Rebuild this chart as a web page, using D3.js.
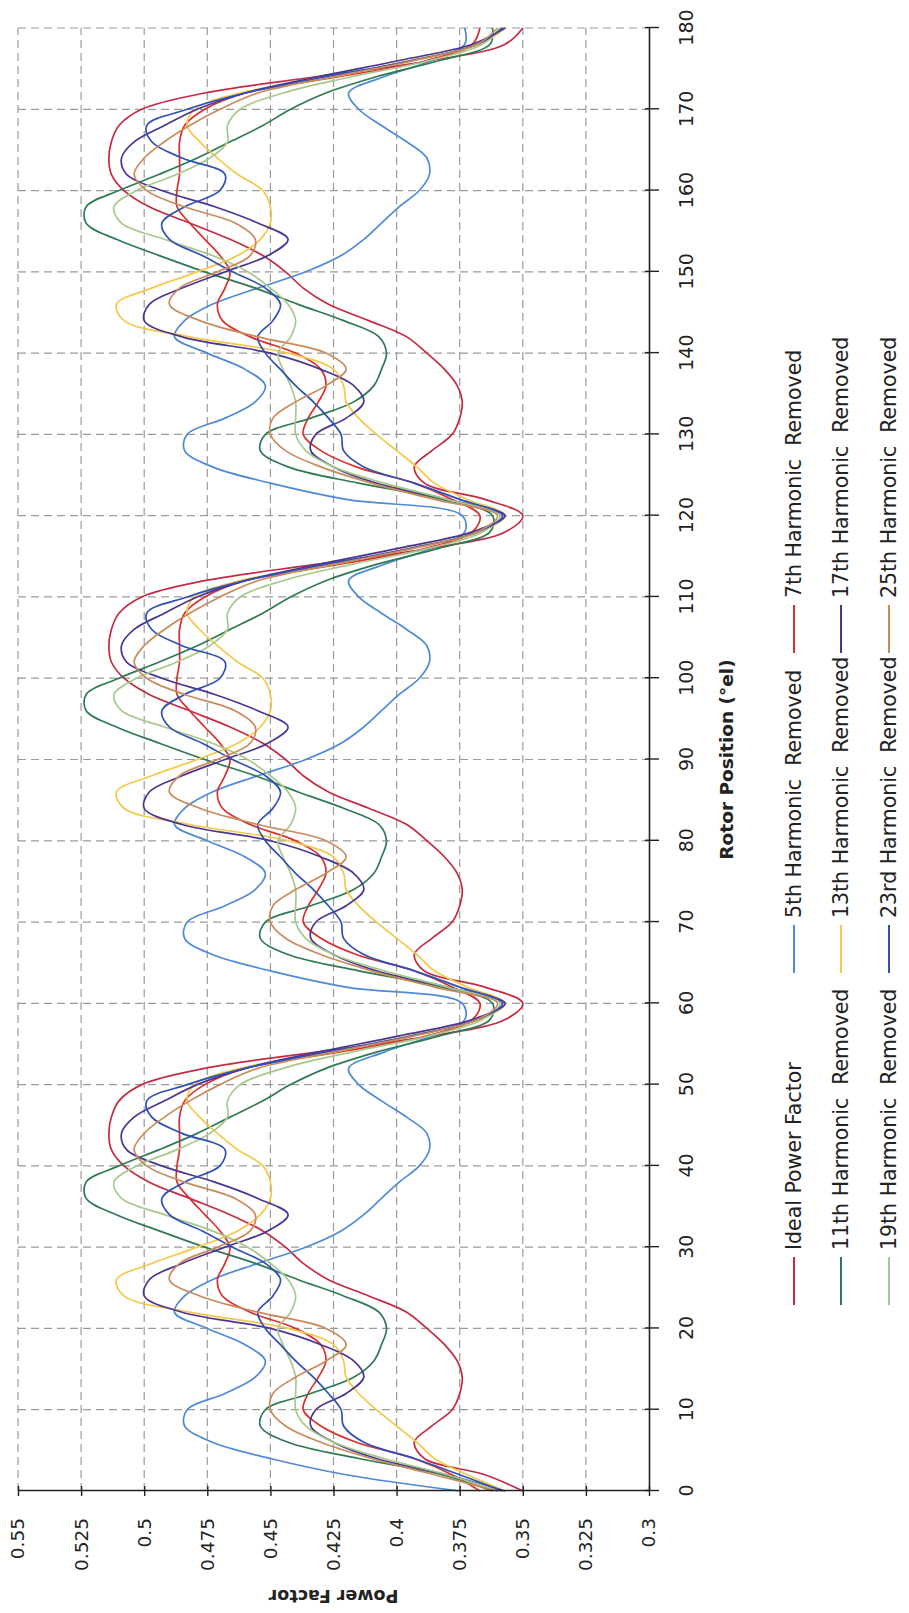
<!DOCTYPE html>
<html>
<head>
<meta charset="utf-8">
<script src="https://cdn.jsdelivr.net/npm/d3@7"></script>
<style>
  body { margin: 0; background: #fff; }
  text { font-family: "DejaVu Sans", sans-serif; fill: #222; }
</style>
</head>
<body>
<svg id="chart"></svg>
<script>
const W = 909, H = 1613;

// rotor position (deg el), sampled every 2 degrees
const rotor = [0,2,4,6,8,10,12,14,16,18,20,22,24,26,28,30,32,34,36,38,40,42,44,46,48,50,52,54,56,58,
  60,62,64,66,68,70,72,74,76,78,80,82,84,86,88,90,92,94,96,98,100,102,104,106,108,110,112,114,116,118,
  120,122,124,126,128,130,132,134,136,138,140,142,144,146,148,150,152,154,156,158,160,162,164,166,168,170,172,174,176,178,180];

const idealPF = [0.350,0.365,0.389,0.393,0.386,0.378,0.375,0.374,0.376,0.381,0.388,0.396,0.411,0.427,0.437,0.444,0.453,0.466,0.482,0.498,0.508,0.513,0.514,0.513,0.510,0.501,0.476,0.432,0.386,0.357,
  0.350,0.365,0.389,0.393,0.386,0.378,0.375,0.374,0.376,0.381,0.388,0.396,0.411,0.427,0.437,0.444,0.453,0.466,0.482,0.498,0.508,0.513,0.514,0.513,0.510,0.501,0.476,0.432,0.386,0.357,
  0.350,0.365,0.389,0.393,0.386,0.378,0.375,0.374,0.376,0.381,0.388,0.396,0.411,0.427,0.437,0.444,0.453,0.466,0.482,0.498,0.508,0.513,0.514,0.513,0.510,0.501,0.476,0.432,0.386,0.357,0.350];

const h5 = [0.375,0.420,0.450,0.473,0.484,0.483,0.468,0.456,0.452,0.460,0.475,0.488,0.484,0.473,0.455,0.436,0.422,0.413,0.406,0.399,0.391,0.387,0.388,0.396,0.406,0.415,0.419,0.405,0.386,0.373,
  0.374,0.420,0.450,0.473,0.484,0.483,0.468,0.456,0.452,0.460,0.475,0.488,0.484,0.473,0.455,0.436,0.422,0.413,0.406,0.399,0.391,0.387,0.388,0.396,0.406,0.415,0.419,0.405,0.386,0.373,
  0.374,0.420,0.450,0.473,0.484,0.483,0.468,0.456,0.452,0.460,0.475,0.488,0.484,0.473,0.455,0.436,0.422,0.413,0.406,0.399,0.391,0.387,0.388,0.396,0.406,0.415,0.419,0.405,0.386,0.373,0.373];

const h7 = [0.367,0.378,0.393,0.416,0.430,0.437,0.435,0.431,0.428,0.430,0.440,0.458,0.469,0.471,0.468,0.466,0.470,0.476,0.482,0.487,0.487,0.486,0.486,0.486,0.484,0.476,0.460,0.423,0.388,0.370,
  0.367,0.378,0.393,0.416,0.430,0.437,0.435,0.431,0.428,0.430,0.440,0.458,0.469,0.471,0.468,0.466,0.470,0.476,0.482,0.487,0.487,0.486,0.486,0.486,0.484,0.476,0.460,0.423,0.388,0.370,
  0.367,0.378,0.393,0.416,0.430,0.437,0.435,0.431,0.428,0.430,0.440,0.458,0.469,0.471,0.468,0.466,0.470,0.476,0.482,0.487,0.487,0.486,0.486,0.486,0.484,0.476,0.460,0.423,0.388,0.370,0.367];

const h11 = [0.362,0.382,0.415,0.443,0.454,0.452,0.434,0.417,0.409,0.406,0.404,0.407,0.421,0.439,0.456,0.476,0.494,0.511,0.523,0.523,0.510,0.494,0.479,0.466,0.453,0.442,0.428,0.408,0.383,0.363,
  0.362,0.382,0.415,0.443,0.454,0.452,0.434,0.417,0.409,0.406,0.404,0.407,0.421,0.439,0.456,0.476,0.494,0.511,0.523,0.523,0.510,0.494,0.479,0.466,0.453,0.442,0.428,0.408,0.383,0.363,
  0.362,0.382,0.415,0.443,0.454,0.452,0.434,0.417,0.409,0.406,0.404,0.407,0.421,0.439,0.456,0.476,0.494,0.511,0.523,0.523,0.510,0.494,0.479,0.466,0.453,0.442,0.428,0.408,0.383,0.363,0.362];

const h13 = [0.357,0.372,0.385,0.392,0.400,0.408,0.415,0.420,0.421,0.425,0.443,0.482,0.508,0.511,0.497,0.479,0.463,0.454,0.450,0.450,0.453,0.463,0.471,0.478,0.483,0.480,0.462,0.425,0.395,0.367,
  0.357,0.372,0.385,0.392,0.400,0.408,0.415,0.420,0.421,0.425,0.443,0.482,0.508,0.511,0.497,0.479,0.463,0.454,0.450,0.450,0.453,0.463,0.471,0.478,0.483,0.480,0.462,0.425,0.395,0.367,
  0.357,0.372,0.385,0.392,0.400,0.408,0.415,0.420,0.421,0.425,0.443,0.482,0.508,0.511,0.497,0.479,0.463,0.454,0.450,0.450,0.453,0.463,0.471,0.478,0.483,0.480,0.462,0.425,0.395,0.367,0.357];

const h17 = [0.357,0.380,0.408,0.425,0.434,0.432,0.420,0.413,0.417,0.430,0.450,0.485,0.500,0.498,0.485,0.468,0.451,0.443,0.455,0.472,0.493,0.507,0.509,0.504,0.492,0.479,0.460,0.431,0.399,0.370,
  0.357,0.380,0.408,0.425,0.434,0.432,0.420,0.413,0.417,0.430,0.450,0.485,0.500,0.498,0.485,0.468,0.451,0.443,0.455,0.472,0.493,0.507,0.509,0.504,0.492,0.479,0.460,0.431,0.399,0.370,
  0.357,0.380,0.408,0.425,0.434,0.432,0.420,0.413,0.417,0.430,0.450,0.485,0.500,0.498,0.485,0.468,0.451,0.443,0.455,0.472,0.493,0.507,0.509,0.504,0.492,0.479,0.460,0.431,0.399,0.370,0.357];

const h19 = [0.359,0.380,0.405,0.425,0.436,0.440,0.440,0.440,0.442,0.445,0.447,0.442,0.440,0.443,0.450,0.459,0.473,0.492,0.509,0.512,0.503,0.487,0.474,0.467,0.467,0.462,0.445,0.418,0.387,0.366,
  0.359,0.380,0.405,0.425,0.436,0.440,0.440,0.440,0.442,0.445,0.447,0.442,0.440,0.443,0.450,0.459,0.473,0.492,0.509,0.512,0.503,0.487,0.474,0.467,0.467,0.462,0.445,0.418,0.387,0.366,
  0.359,0.380,0.405,0.425,0.436,0.440,0.440,0.440,0.442,0.445,0.447,0.442,0.440,0.443,0.450,0.459,0.473,0.492,0.509,0.512,0.503,0.487,0.474,0.467,0.467,0.462,0.445,0.418,0.387,0.366,0.359];

const h23 = [0.358,0.375,0.393,0.413,0.421,0.422,0.427,0.433,0.440,0.446,0.452,0.455,0.449,0.446,0.452,0.465,0.477,0.490,0.493,0.484,0.470,0.468,0.485,0.497,0.499,0.483,0.460,0.428,0.394,0.368,
  0.358,0.375,0.393,0.413,0.421,0.422,0.427,0.433,0.440,0.446,0.452,0.455,0.449,0.446,0.452,0.465,0.477,0.490,0.493,0.484,0.470,0.468,0.485,0.497,0.499,0.483,0.460,0.428,0.394,0.368,
  0.358,0.375,0.393,0.413,0.421,0.422,0.427,0.433,0.440,0.446,0.452,0.455,0.449,0.446,0.452,0.465,0.477,0.490,0.493,0.484,0.470,0.468,0.485,0.497,0.499,0.483,0.460,0.428,0.394,0.368,0.358];

const h25 = [0.360,0.385,0.410,0.430,0.444,0.450,0.449,0.440,0.428,0.420,0.428,0.455,0.478,0.490,0.486,0.471,0.458,0.456,0.464,0.484,0.499,0.504,0.500,0.492,0.482,0.470,0.455,0.425,0.393,0.368,
  0.360,0.385,0.410,0.430,0.444,0.450,0.449,0.440,0.428,0.420,0.428,0.455,0.478,0.490,0.486,0.471,0.458,0.456,0.464,0.484,0.499,0.504,0.500,0.492,0.482,0.470,0.455,0.425,0.393,0.368,
  0.360,0.385,0.410,0.430,0.444,0.450,0.449,0.440,0.428,0.420,0.428,0.455,0.478,0.490,0.486,0.471,0.458,0.456,0.464,0.484,0.499,0.504,0.500,0.492,0.482,0.470,0.455,0.425,0.393,0.368,0.360];

const seriesNames = ["Ideal Power Factor", "5th Harmonic  Removed", "7th Harmonic  Removed",
  "11th Harmonic  Removed", "13th Harmonic  Removed", "17th Harmonic  Removed",
  "19th Harmonic  Removed", "23rd Harmonic  Removed", "25th Harmonic  Removed"];
const seriesValues = [idealPF, h5, h7, h11, h13, h17, h19, h23, h25];
const seriesColors = ["#c42a44", "#4f8ad8", "#d8302e", "#2f7a52", "#f4c84a", "#4b3592", "#a8c98c", "#2f50b6", "#c98a5c"];

const pfTicks = [0.3, 0.325, 0.35, 0.375, 0.4, 0.425, 0.45, 0.475, 0.5, 0.525, 0.55];
const pfLabels = ["0.3", "0.325", "0.35", "0.375", "0.4", "0.425", "0.45", "0.475", "0.5", "0.525", "0.55"];
const rotorTicks = [0,10,20,30,40,50,60,70,80,90,100,110,120,130,140,150,160,170,180];

const svg = d3.select("#chart")
    .attr("width", W)
    .attr("height", H);

svg.append("rect").attr("width", W).attr("height", H).attr("fill", "#fff");

// the chart is laid out landscape and then turned a quarter turn
const g = svg.append("g")
    .attr("transform", `translate(0,${H}) rotate(-90)`);

const x = d3.scaleLinear().domain([0, 180]).range([122, 1585]);
const y = d3.scaleLinear().domain([0.3, 0.55]).range([649, 18]);

// dashed grid
g.append("g").selectAll("line")
    .data(pfTicks.filter(d => d > 0.3))
    .enter()
    .append("line")
    .attr("x1", x(0)).attr("x2", x(180))
    .attr("y1", d => y(d)).attr("y2", d => y(d))
    .attr("stroke", "#9a9a9a")
    .attr("stroke-width", 1.2)
    .attr("stroke-dasharray", "8,5");

g.append("g").selectAll("line")
    .data(rotorTicks.filter(d => d > 0))
    .enter()
    .append("line")
    .attr("x1", d => x(d)).attr("x2", d => x(d))
    .attr("y1", y(0.55)).attr("y2", y(0.3))
    .attr("stroke", "#9a9a9a")
    .attr("stroke-width", 1.2)
    .attr("stroke-dasharray", "8,5");

// curves
const line = d3.line()
    .x((d, i) => x(rotor[i]))
    .y(d => y(d))
    .curve(d3.curveCatmullRom.alpha(0.5));

g.append("g").selectAll("path")
    .data(seriesValues)
    .enter()
    .append("path")
    .attr("d", d => line(d))
    .attr("fill", "none")
    .attr("stroke", (d, i) => seriesColors[i])
    .attr("stroke-width", 1.7);

// Add y-axis (power factor)
const yAxis = g.append("g")
    .attr("transform", `translate(${x(0)},0)`)
    .call(d3.axisLeft(y)
        .tickValues(pfTicks)
        .tickFormat((d, i) => pfLabels[i])
        .tickSizeInner(5)
        .tickSizeOuter(0)
        .tickPadding(22));
yAxis.selectAll(".tick line").attr("x1", 5);
yAxis.selectAll("text").style("font-size", "18.5px").style("font-family", "'DejaVu Sans', sans-serif").attr("fill", "#222");

// Add x-axis (rotor position)
const xAxis = g.append("g")
    .attr("transform", `translate(0,${y(0.3)})`)
    .call(d3.axisBottom(x)
        .tickValues(rotorTicks)
        .tickSizeInner(10)
        .tickSizeOuter(0)
        .tickPadding(21));
xAxis.selectAll(".tick line").attr("y1", -4);
xAxis.selectAll("text").style("font-size", "19px").style("font-family", "'DejaVu Sans', sans-serif").attr("fill", "#222");
g.selectAll(".domain").attr("stroke", "#222").attr("stroke-width", 1.6);
g.selectAll(".tick line").attr("stroke", "#222").attr("stroke-width", 1.4);

// axis titles
g.append("text")
    .attr("transform", `translate(23,${(y(0.3) + y(0.55)) / 2}) rotate(-90)`)
    .attr("text-anchor", "middle")
    .style("font-size", "17.5px")
    .style("font-weight", "bold")
    .text("Power Factor");

g.append("text")
    .attr("x", (x(0) + x(180)) / 2)
    .attr("y", 733)
    .attr("text-anchor", "middle")
    .style("font-size", "18.5px")
    .style("font-weight", "bold")
    .text("Rotor Position (°el)");

// legend, three per row
const legendCols = [308, 640, 960];
const legendRows = [794, 841, 889];
const legend = g.append("g");
seriesNames.forEach((name, i) => {
    const lx = legendCols[i % 3], ly = legendRows[Math.floor(i / 3)];
    legend.append("line")
        .attr("x1", lx).attr("x2", lx + 48)
        .attr("y1", ly).attr("y2", ly)
        .attr("stroke", seriesColors[i])
        .attr("stroke-width", 2);
    legend.append("text")
        .attr("x", lx + 55)
        .attr("y", ly)
        .attr("dy", "0.36em")
        .attr("xml:space", "preserve")
        .style("white-space", "pre")
        .style("font-size", "20.5px")
        .text(name);
});
</script>
</body>
</html>
